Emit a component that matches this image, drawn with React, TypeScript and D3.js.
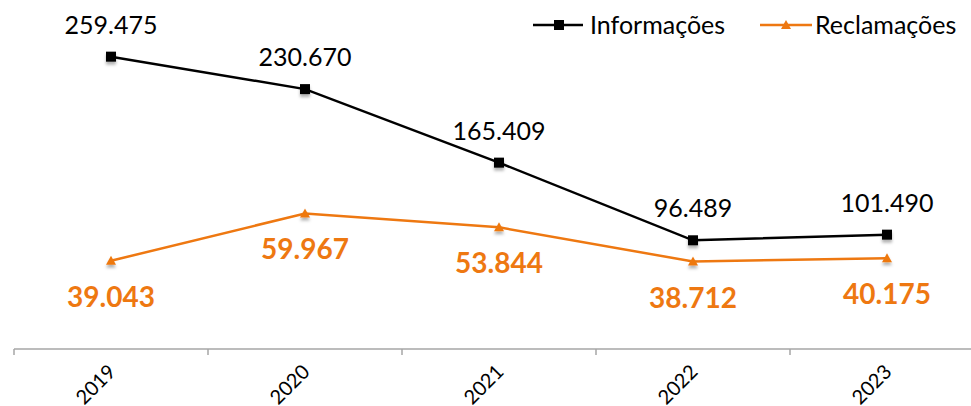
import React from "react";
import { scaleBand, scaleLinear, line } from "d3";

const years = ["2019", "2020", "2021", "2022", "2023"];
const informacoes = [259475, 230670, 165409, 96489, 101490];
const reclamacoes = [39043, 59967, 53844, 38712, 40175];
const seriesNames = ["Informações", "Reclamações"];

const W = 971;
const H = 406;
const orange = "#ee7811";
const font = "Lato, 'Open Sans', sans-serif";

const fmt = (v: number) =>
  v.toLocaleString("de-DE", { maximumFractionDigits: 0 });

function App() {
  const x = scaleBand().domain(years).range([14, 984]);
  const yLeft = scaleLinear().domain([0, 300000]).range([349, 11]);
  const yRight = scaleLinear().domain([0, 150000]).range([349, 10]);
  const cx = (d: string) => (x(d) ?? 0) + x.bandwidth() / 2;

  const blackPath = line<number>()
    .x((_, i) => cx(years[i]))
    .y((v) => yLeft(v))(informacoes);
  const orangePath = line<number>()
    .x((_, i) => cx(years[i]))
    .y((v) => yRight(v))(reclamacoes);

  const tri = (px: number, py: number) =>
    `M${px - 5},${py + 4}L${px + 5},${py + 4}L${px},${py - 5}Z`;

  return (
    <svg
      width={W}
      height={H}
      style={{ position: "absolute", left: 0, top: 0, display: "block" }}
      fontFamily={font}
    >
      <defs>
        <filter id="sh" x="-50%" y="-50%" width="200%" height="220%">
          <feDropShadow dx="0" dy="3" stdDeviation="1.5" floodColor="#000" floodOpacity="0.3" />
        </filter>
      </defs>

      {/* x axis */}
      <line x1={14} x2={W} y1={349} y2={349} stroke="#a6a6a6" strokeWidth={1.5} />
      {years.map((d) => (
        <line key={"t" + d} x1={x(d)} x2={x(d)} y1={349} y2={355} stroke="#a6a6a6" strokeWidth={1.5} />
      ))}
      {years.map((d) => (
        <text
          key={"l" + d}
          transform={`translate(${cx(d) + 6},${373}) rotate(-45)`}
          textAnchor="end"
          fontSize={20}
          fill="#000"
        >
          {d}
        </text>
      ))}

      {/* lines */}
      <path d={orangePath ?? ""} fill="none" stroke={orange} strokeWidth={2.5} />
      <path d={blackPath ?? ""} fill="none" stroke="#000" strokeWidth={2.5} />

      {reclamacoes.map((v, i) => (
        <path key={"m2" + i} d={tri(cx(years[i]), yRight(v))} fill={orange} filter="url(#sh)" />
      ))}
      {informacoes.map((v, i) => (
        <rect
          key={"m1" + i}
          x={cx(years[i]) - 5}
          y={yLeft(v) - 5}
          width={10}
          height={10}
          fill="#000"
          filter="url(#sh)"
        />
      ))}

      {/* data labels */}
      {informacoes.map((v, i) => (
        <text key={"b" + i} x={cx(years[i])} y={yLeft(v) - 23} textAnchor="middle" fontSize={25} fill="#000">
          {fmt(v)}
        </text>
      ))}
      {reclamacoes.map((v, i) => (
        <text
          key={"o" + i}
          x={cx(years[i])}
          y={yRight(v) + 46}
          textAnchor="middle"
          fontSize={28}
          fontWeight="bold"
          fill={orange}
        >
          {fmt(v)}
        </text>
      ))}

      {/* legend */}
      <g transform="translate(533,25)">
        <line x1={0} x2={50} y1={0} y2={0} stroke="#000" strokeWidth={2.5} />
        <rect x={21} y={-5} width={10} height={10} fill="#000" />
        <text x={57} y={9} fontSize={25} fill="#000">
          {seriesNames[0]}
        </text>
      </g>
      <g transform="translate(760,25)">
        <line x1={0} x2={52} y1={0} y2={0} stroke={orange} strokeWidth={2.5} />
        <path d={tri(26, 0)} fill={orange} />
        <text x={55} y={9} fontSize={25} fill="#000">
          {seriesNames[1]}
        </text>
      </g>
    </svg>
  );
}

export default App;
